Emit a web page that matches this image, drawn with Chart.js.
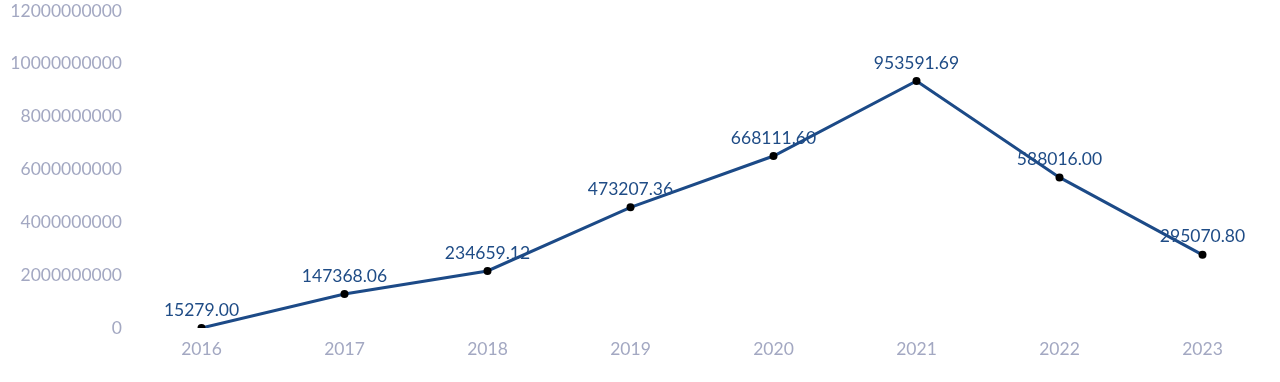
<!DOCTYPE html>
<html lang="zh">
<head>
    <meta charset="UTF-8">
    <title>年度趋势</title>
    <script src="https://cdn.jsdelivr.net/npm/chart.js"></script>
    <style>
        body, html { margin: 0; padding: 0; background: #fff; }
        #wrap { width: 1280px; height: 382px; position: relative; }
    </style>
</head>
<body>
    <div id="wrap"><canvas id="chartCanvas"></canvas></div>

    <script>
        const years = ['2016', '2017', '2018', '2019', '2020', '2021', '2022', '2023'];
        // point heights
        const amounts = [0, 1290000000, 2160000000, 4570000000, 6510000000, 9350000000, 5700000000, 2770000000];
        // text shown above each point
        const pointLabels = ['15279.00', '147368.06', '234659.12', '473207.36', '668111.60', '953591.69', '588016.00', '295070.80'];
        const yTicks = [0, 2000000000, 4000000000, 6000000000, 8000000000, 10000000000, 12000000000];

        const FONT = 'Lato, "Open Sans", sans-serif';

        const labelPlugin = {
            id: 'pointLabels',
            afterDatasetsDraw(chart) {
                const ctx = chart.ctx;
                const meta = chart.getDatasetMeta(0);
                ctx.save();
                ctx.font = '17.5px ' + FONT;
                ctx.fillStyle = '#1f4c86';
                ctx.textAlign = 'center';
                ctx.textBaseline = 'middle';
                meta.data.forEach((pt, i) => {
                    ctx.fillText(pointLabels[i], pt.x, pt.y - 18);
                });
                ctx.restore();
            }
        };

        new Chart(document.getElementById('chartCanvas').getContext('2d'), {
            type: 'line',
            data: {
                labels: years,
                datasets: [{
                    data: amounts,
                    borderColor: '#1c4a87',
                    borderWidth: 3,
                    pointRadius: 4,
                    pointBackgroundColor: '#000',
                    pointBorderColor: '#000',
                    pointBorderWidth: 0,
                    tension: 0
                }]
            },
            options: {
                responsive: true,
                maintainAspectRatio: false,
                animation: false,
                layout: { padding: { left: 12, right: 6, top: 11, bottom: 11 } },
                plugins: { legend: { display: false }, tooltip: { enabled: false } },
                scales: {
                    x: {
                        offset: true,
                        grid: { display: false, drawTicks: false },
                        border: { display: false },
                        ticks: { color: '#a3a8c2', font: { family: FONT, size: 17.5 }, padding: 11 }
                    },
                    y: {
                        min: 0,
                        max: yTicks[yTicks.length - 1],
                        afterBuildTicks: s => { s.ticks = yTicks.map(v => ({ value: v })); },
                        afterFit: s => { s.width = 118; s.paddingTop = 0; s.paddingBottom = 0; },
                        grid: { display: false, drawTicks: false },
                        border: { display: false },
                        ticks: {
                            color: '#a3a8c2',
                            font: { family: FONT, size: 17.5 },
                            padding: 8,
                            callback: v => String(v)
                        }
                    }
                }
            },
            plugins: [labelPlugin]
        });
    </script>
</body>
</html>
